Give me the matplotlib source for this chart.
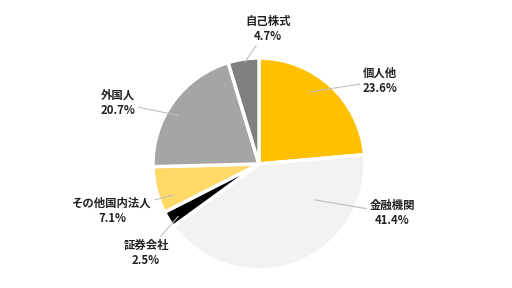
import matplotlib
matplotlib.use("Agg")
import matplotlib.pyplot as plt
import numpy as np

plt.rcParams["font.family"] = ["Noto Sans CJK JP", "DejaVu Sans"]

# shareholder composition, clockwise from 12 o'clock
labels = ["個人他", "金融機関", "証券会社", "その他国内法人", "外国人", "自己株式"]
shares = [23.6, 41.4, 2.5, 7.1, 20.7, 4.7]
colors = ["#FFC000", "#F2F2F2", "#000000", "#FFD966", "#A5A5A5", "#7F7F7F"]

# label text centres (pixels in a 512x288 canvas) and leader anchor angles
label_px = [(380, 81), (392, 213), (146, 253), (112, 211), (118, 103), (268, 29)]
anchor_deg = [55, -33, 213, 200, 149, 98]
anchor_r = [0.83, 0.62, 0.91, 0.85, 0.89, 0.97]

W, H = 512, 288
cx, cy, R = 259, 164, 106

fig = plt.figure(figsize=(W / 100, H / 100), dpi=100)
ax = fig.add_axes([(cx - R) / W, (H - cy - R) / H, 2 * R / W, 2 * R / H])
ax.pie(shares, colors=colors, startangle=90, counterclock=False,
       wedgeprops=dict(edgecolor="white", linewidth=2.5))
ax.set_xlim(-1, 1)
ax.set_ylim(-1, 1)
ax.set_aspect("equal")
ax.axis("off")

for name, val, (px, py), a, r in zip(labels, shares, label_px, anchor_deg, anchor_r):
    tx, ty = (px - cx) / R, (cy - py) / R
    ax.annotate(f"{name}\n{val}%", xy=(r * np.cos(np.radians(a)), r * np.sin(np.radians(a))),
                xytext=(tx, ty), ha="center", va="center", fontsize=8.2,
                fontweight="bold", color="#222222", linespacing=1.2,
                annotation_clip=False,
                arrowprops=dict(arrowstyle="-", color="#BFBFBF", lw=0.8,
                                shrinkA=0, shrinkB=0))

fig.savefig("out.png", dpi=100)
